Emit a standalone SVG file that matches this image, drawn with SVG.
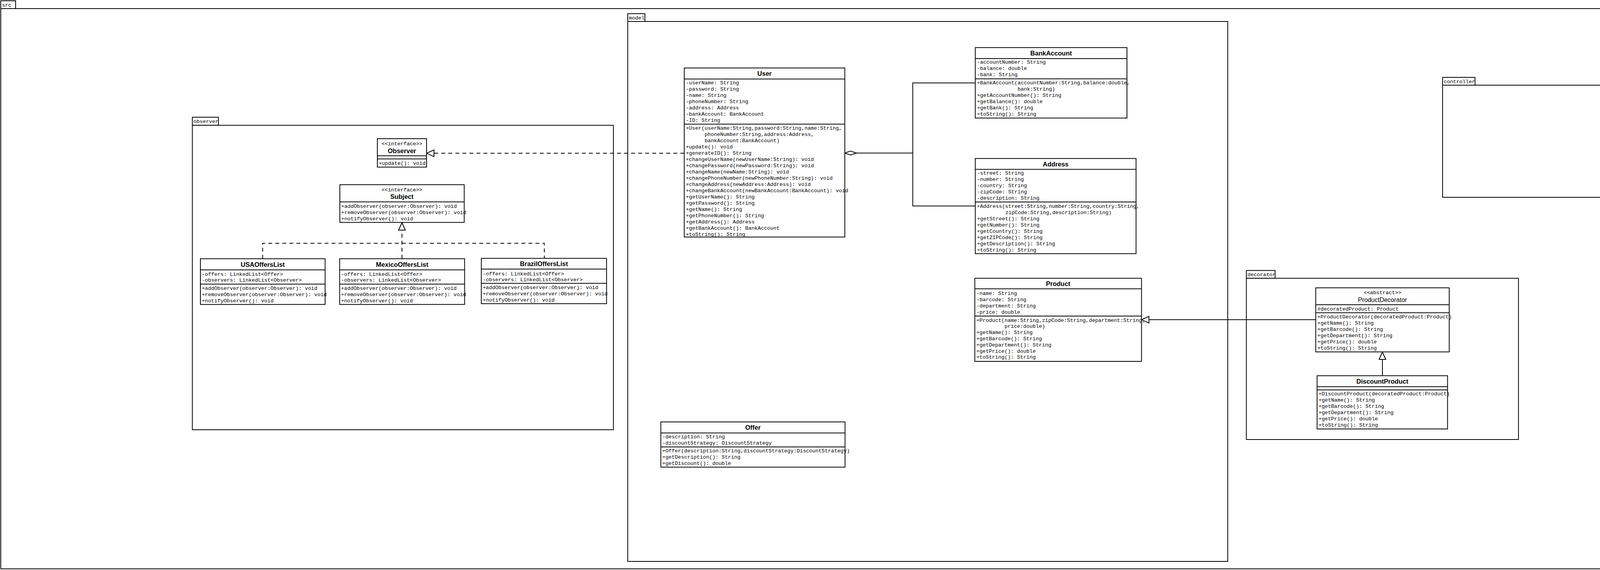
<svg xmlns="http://www.w3.org/2000/svg" width="6452" height="1459" viewBox="0 0 6452 1459">
<style>
.pk{fill:#fff;stroke:#000;stroke-width:2}
.bx{fill:#fff;stroke:#000;stroke-width:2}
.sp{stroke:#000;stroke-width:2}
.m{font-family:"Liberation Mono","Courier New",monospace;font-size:13.33px;fill:#000}
.b{font-family:"Liberation Sans",Arial,sans-serif;font-weight:bold;font-size:16.5px;text-anchor:middle;fill:#000}
.r{font-family:"Liberation Sans",Arial,sans-serif;font-size:16px;text-anchor:middle;fill:#000}
.c{text-anchor:middle}
.cn{fill:none;stroke:#000;stroke-width:2}
.ds{stroke-dasharray:10 8}
</style>
<defs>
<marker id="tri" markerUnits="userSpaceOnUse" markerWidth="24" markerHeight="22" refX="19" refY="9" orient="auto" overflow="visible"><path d="M0,0.5 L19,9 L0,17.5 Z" fill="#fff" stroke="#000" stroke-width="2" stroke-dasharray="none"/></marker>
<marker id="dia" markerUnits="userSpaceOnUse" markerWidth="32" markerHeight="12" refX="0" refY="5" orient="auto" overflow="visible"><path d="M0,5 L15,0 L30,5 L15,10 Z" fill="#fff" stroke="#000" stroke-width="2"/></marker>
</defs>
<rect width="6452" height="1459" fill="#fff"/>

<g id="pkg-src">
<rect class="pk" x="2" y="2" width="38" height="20"/>
<rect class="pk" x="2" y="22" width="6446" height="1434"/>
<text class="m" x="5" y="16.5">src</text>
</g>
<g id="pkg-observer">
<rect class="pk" x="492.4" y="300" width="66.6" height="20.7"/>
<rect class="pk" x="492.4" y="320.7" width="1078" height="779.3"/>
<text class="m" x="495" y="315">observer</text>
</g>
<g id="pkg-model">
<rect class="pk" x="1607" y="35" width="44" height="20"/>
<rect class="pk" x="1607" y="55" width="1536" height="1382"/>
<text class="m" x="1610" y="49.5">model</text>
</g>
<g id="pkg-decorator">
<rect class="pk" x="3190.7" y="692.3" width="73.6" height="20"/>
<rect class="pk" x="3190.7" y="712.3" width="696.6" height="412.7"/>
<text class="m" x="3193.5" y="706.8">decorator</text>
</g>
<g id="pkg-controller">
<rect class="pk" x="3693" y="198" width="83" height="20"/>
<rect class="pk" x="3693" y="218" width="432" height="287"/>
<text class="m" x="3696" y="212.5">controller</text>
</g>
<g id="pkg-view">
<rect class="pk" x="4437" y="228" width="40" height="20"/>
<rect class="pk" x="4437" y="248" width="418" height="267"/>
<text class="m" x="4440" y="242.5">view</text>
</g>
<g id="pkg-strategy">
<rect class="pk" x="4279.3" y="736" width="66.4" height="20"/>
<rect class="pk" x="4279.3" y="756" width="1404" height="648"/>
<text class="m" x="4282" y="750.5">strategy</text>
</g>

<g id="connectors">
<path class="cn ds" d="M1751.7,392.3 H1092" marker-end="url(#tri)"/>
<path class="cn ds" d="M672.4,662.3 V622.7 H1393.5 V661.3"/>
<path class="cn ds" d="M1029,662.3 V570" marker-end="url(#tri)"/>
<path class="cn" d="M2162.3,391.7 H2336.7" marker-start="url(#dia)"/>
<path class="cn" d="M2496.7,212.3 H2336.7 V527.3 H2496.7"/>
<path class="cn" d="M3368.3,818.3 H2922.3" marker-end="url(#tri)"/>
<path class="cn" d="M3539,961.7 V901" marker-end="url(#tri)"/>
</g>

<g id="Observer">
<rect class="bx" x="966" y="355" width="126" height="72.7"/>
<line class="sp" x1="966" y1="398.7" x2="1092" y2="398.7"/>
<line class="sp" x1="966" y1="406.7" x2="1092" y2="406.7"/>
<text class="m c" x="1029" y="371.8">&lt;&lt;interface&gt;&gt;</text>
<text class="b" x="1029" y="391.7">Observer</text>
<text class="m" x="969.5" y="421.5">+update(): void</text>
</g>
<g id="Subject">
<rect class="bx" x="870" y="472.7" width="318.4" height="96.6"/>
<line class="sp" x1="870" y1="516.7" x2="1188.4" y2="516.7"/>
<text class="m c" x="1029" y="489.5">&lt;&lt;interface&gt;&gt;</text>
<text class="b" x="1029" y="509.3">Subject</text>
<text class="m" x="873.5" y="531.8">+addObserver(observer:Observer): void</text>
<text class="m" x="873.5" y="547.8">+removeObserver(observer:Observer): void</text>
<text class="m" x="873.5" y="563.8">+notifyObserver(): void</text>
</g>
<g id="USAOffersList">
<rect class="bx" x="513" y="662.3" width="319.3" height="117"/>
<line class="sp" x1="513" y1="690.7" x2="832.3" y2="690.7"/>
<line class="sp" x1="513" y1="727.3" x2="832.3" y2="727.3"/>
<text class="b" x="672.7" y="682.5">USAOffersList</text>
<text class="m" x="516.5" y="705.5">-offers: LinkedList&lt;Offer&gt;</text>
<text class="m" x="516.5" y="721.2">-observers: LinkedList&lt;Observer&gt;</text>
<text class="m" x="516.5" y="741.8">+addObserver(observer:Observer): void</text>
<text class="m" x="516.5" y="757.8">+removeObserver(observer:Observer): void</text>
<text class="m" x="516.5" y="773.8">+notifyObserver(): void</text>
</g>
<g id="MexicoOffersList">
<rect class="bx" x="869.5" y="662.3" width="319.9" height="117"/>
<line class="sp" x1="869.5" y1="690.7" x2="1189.4" y2="690.7"/>
<line class="sp" x1="869.5" y1="727.3" x2="1189.4" y2="727.3"/>
<text class="b" x="1029.5" y="682.5">MexicoOffersList</text>
<text class="m" x="873" y="705.5">-offers: LinkedList&lt;Offer&gt;</text>
<text class="m" x="873" y="721.2">-observers: LinkedList&lt;Observer&gt;</text>
<text class="m" x="873" y="741.8">+addObserver(observer:Observer): void</text>
<text class="m" x="873" y="757.8">+removeObserver(observer:Observer): void</text>
<text class="m" x="873" y="773.8">+notifyObserver(): void</text>
</g>
<g id="BrazilOffersList">
<rect class="bx" x="1232.2" y="661.3" width="320.6" height="116"/>
<line class="sp" x1="1232.2" y1="688.7" x2="1552.8" y2="688.7"/>
<line class="sp" x1="1232.2" y1="725.3" x2="1552.8" y2="725.3"/>
<text class="b" x="1392.5" y="681">BrazilOffersList</text>
<text class="m" x="1235.7" y="704.5">-offers: LinkedList&lt;Offer&gt;</text>
<text class="m" x="1235.7" y="720.2">-observers: LinkedList&lt;Observer&gt;</text>
<text class="m" x="1235.7" y="740.2">+addObserver(observer:Observer): void</text>
<text class="m" x="1235.7" y="756.2">+removeObserver(observer:Observer): void</text>
<text class="m" x="1235.7" y="772.2">+notifyObserver(): void</text>
</g>

<g id="User">
<rect class="bx" x="1751.7" y="174" width="411" height="432.7"/>
<line class="sp" x1="1751.7" y1="202.3" x2="2162.7" y2="202.3"/>
<line class="sp" x1="1751.7" y1="317.7" x2="2162.7" y2="317.7"/>
<text class="b" x="1957.2" y="194">User</text>
<text class="m" x="1755.7" y="215.5">-userName: String</text>
<text class="m" x="1755.7" y="231.5">-password: String</text>
<text class="m" x="1755.7" y="247.5">-name: String</text>
<text class="m" x="1755.7" y="263.5">-phoneNumber: String</text>
<text class="m" x="1755.7" y="279.5">-address: Address</text>
<text class="m" x="1755.7" y="295.5">-bankAccount: BankAccount</text>
<text class="m" x="1755.7" y="311.5">-ID: String</text>
<text class="m" x="1755.7" y="331.5">+User(userName:String,password:String,name:String,</text>
<text class="m" x="1803.7" y="347.5">phoneNumber:String,address:Address,</text>
<text class="m" x="1803.7" y="363.5">bankAccount:BankAccount)</text>
<text class="m" x="1755.7" y="379.5">+update(): void</text>
<text class="m" x="1755.7" y="395.5">+generateID(): String</text>
<text class="m" x="1755.7" y="411.5">+changeUserName(newUserName:String): void</text>
<text class="m" x="1755.7" y="427.5">+changePassword(newPassword:String): void</text>
<text class="m" x="1755.7" y="443.5">+changeName(newName:String): void</text>
<text class="m" x="1755.7" y="459.5">+changePhoneNumber(newPhoneNumber:String): void</text>
<text class="m" x="1755.7" y="475.5">+changeAddress(newAddress:Address): void</text>
<text class="m" x="1755.7" y="491.5">+changeBankAccount(newBankAccount:BankAccount): void</text>
<text class="m" x="1755.7" y="507.5">+getUserName(): String</text>
<text class="m" x="1755.7" y="523.5">+getPassword(): String</text>
<text class="m" x="1755.7" y="539.5">+getName(): String</text>
<text class="m" x="1755.7" y="555.5">+getPhoneNumber(): String</text>
<text class="m" x="1755.7" y="571.5">+getAddress(): Address</text>
<text class="m" x="1755.7" y="587.5">+getBankAccount(): BankAccount</text>
<text class="m" x="1755.7" y="603.5">+toString(): String</text>
</g>
<g id="BankAccount">
<rect class="bx" x="2496.7" y="121.8" width="388.3" height="180.4"/>
<line class="sp" x1="2496.7" y1="150" x2="2885" y2="150"/>
<line class="sp" x1="2496.7" y1="201.8" x2="2885" y2="201.8"/>
<text class="b" x="2690.8" y="141.7">BankAccount</text>
<text class="m" x="2501" y="163.4">-accountNumber: String</text>
<text class="m" x="2501" y="179.4">-balance: double</text>
<text class="m" x="2501" y="195.4">-bank: String</text>
<text class="m" x="2501" y="215.9">+BankAccount(accountNumber:String,balance:double,</text>
<text class="m" x="2605" y="231.9">bank:String)</text>
<text class="m" x="2501" y="247.9">+getAccountNumber(): String</text>
<text class="m" x="2501" y="263.9">+getBalance(): double</text>
<text class="m" x="2501" y="279.9">+getBank(): String</text>
<text class="m" x="2501" y="295.9">+toString(): String</text>
</g>
<g id="Address">
<rect class="bx" x="2496.7" y="405.7" width="411.6" height="243.6"/>
<line class="sp" x1="2496.7" y1="433.6" x2="2908.3" y2="433.6"/>
<line class="sp" x1="2496.7" y1="517.1" x2="2908.3" y2="517.1"/>
<text class="b" x="2702.5" y="425.7">Address</text>
<text class="m" x="2501" y="447.4">-street: String</text>
<text class="m" x="2501" y="463.4">-number: String</text>
<text class="m" x="2501" y="479.4">-country: String</text>
<text class="m" x="2501" y="495.4">-zipCode: String</text>
<text class="m" x="2501" y="511.4">-description: String</text>
<text class="m" x="2501" y="531.6">+Address(street:String,number:String,country:String,</text>
<text class="m" x="2573.7" y="547.6">zipCode:String,description:String)</text>
<text class="m" x="2501" y="563.6">+getStreet(): String</text>
<text class="m" x="2501" y="579.6">+getNumber(): String</text>
<text class="m" x="2501" y="595.6">+getCountry(): String</text>
<text class="m" x="2501" y="611.6">+getZIPCode(): String</text>
<text class="m" x="2501" y="627.6">+getDescription(): String</text>
<text class="m" x="2501" y="643.6">+toString(): String</text>
</g>
<g id="Product">
<rect class="bx" x="2495.5" y="712.3" width="426.8" height="212.7"/>
<line class="sp" x1="2495.5" y1="739.3" x2="2922.3" y2="739.3"/>
<line class="sp" x1="2495.5" y1="809" x2="2922.3" y2="809"/>
<text class="b" x="2708.9" y="732">Product</text>
<text class="m" x="2499.5" y="755.2">-name: String</text>
<text class="m" x="2499.5" y="771.2">-barcode: String</text>
<text class="m" x="2499.5" y="787.2">-department: String</text>
<text class="m" x="2499.5" y="803.2">-price: double</text>
<text class="m" x="2499.5" y="823.5">+Product(name:String,zipCode:String,department:String,</text>
<text class="m" x="2571.5" y="839.3">price:double)</text>
<text class="m" x="2499.5" y="855.1">+getName(): String</text>
<text class="m" x="2499.5" y="870.9">+getBarcode(): String</text>
<text class="m" x="2499.5" y="886.7">+getDepartment(): String</text>
<text class="m" x="2499.5" y="902.5">+getPrice(): double</text>
<text class="m" x="2499.5" y="918.3">+toString(): String</text>
</g>
<g id="Offer">
<rect class="bx" x="1691.7" y="1080" width="471.6" height="115.7"/>
<line class="sp" x1="1691.7" y1="1108.3" x2="2163.3" y2="1108.3"/>
<line class="sp" x1="1691.7" y1="1144" x2="2163.3" y2="1144"/>
<text class="b" x="1927.5" y="1100">Offer</text>
<text class="m" x="1695.5" y="1122.2">-description: String</text>
<text class="m" x="1695.5" y="1137.8">-discountStrategy: DiscountStrategy</text>
<text class="m" x="1695.5" y="1157.8">+Offer(description:String,discountStrategy:DiscountStrategy)</text>
<text class="m" x="1695.5" y="1173.8">+getDescription(): String</text>
<text class="m" x="1695.5" y="1189.8">+getDiscount(): double</text>
</g>

<g id="ProductDecorator">
<rect class="bx" x="3368.3" y="736.7" width="341.7" height="164"/>
<line class="sp" x1="3368.3" y1="780" x2="3710" y2="780"/>
<line class="sp" x1="3368.3" y1="800.5" x2="3710" y2="800.5"/>
<text class="m c" x="3539.2" y="752.8">&lt;&lt;abstract&gt;&gt;</text>
<text class="r" x="3539.2" y="773">ProductDecorator</text>
<text class="m" x="3372.5" y="794.5">#decoratedProduct: Product</text>
<text class="m" x="3372.5" y="814.5">+ProductDecorator(decoratedProduct:Product)</text>
<text class="m" x="3372.5" y="830.5">+getName(): String</text>
<text class="m" x="3372.5" y="846.5">+getBarcode(): String</text>
<text class="m" x="3372.5" y="862.5">+getDepartment(): String</text>
<text class="m" x="3372.5" y="878.5">+getPrice(): double</text>
<text class="m" x="3372.5" y="894.5">+toString(): String</text>
</g>
<g id="DiscountProduct">
<rect class="bx" x="3371.7" y="961.7" width="334" height="136.3"/>
<line class="sp" x1="3371.7" y1="989.7" x2="3705.7" y2="989.7"/>
<line class="sp" x1="3371.7" y1="998" x2="3705.7" y2="998"/>
<text class="b" x="3538.7" y="982">DiscountProduct</text>
<text class="m" x="3375.5" y="1011.8">+DiscountProduct(decoratedProduct:Product)</text>
<text class="m" x="3375.5" y="1027.8">+getName(): String</text>
<text class="m" x="3375.5" y="1043.8">+getBarcode(): String</text>
<text class="m" x="3375.5" y="1059.8">+getDepartment(): String</text>
<text class="m" x="3375.5" y="1075.8">+getPrice(): double</text>
<text class="m" x="3375.5" y="1091.8">+toString(): String</text>
</g>

<g id="LanguageStrategy">
<rect class="bx" x="4848.3" y="769.3" width="264.4" height="176.7"/>
<line class="sp" x1="4848.3" y1="813.3" x2="5112.7" y2="813.3"/>
<text class="m c" x="4980.5" y="786.8">&lt;&lt;interface&gt;&gt;</text>
<text class="b" x="4980.5" y="806.7">LanguageStrategy</text>
<text class="m" x="4852" y="827.2">+showHomeScreen(): void</text>
<text class="m" x="4852" y="843.2">+showLoginScreen(): void</text>
<text class="m" x="4852" y="859.2">+showLogScreen(): void</text>
<text class="m" x="4852" y="875.2">+showProductCatalogScreen(): void</text>
<text class="m" x="4852" y="891.2">+showProductScreen(): void</text>
<text class="m" x="4852" y="907.2">+showShoppingCartScreen(): void</text>
<text class="m" x="4852" y="923.2">+showPurchaseScreen(): void</text>
<text class="m" x="4852" y="939.2">+showPurchaseOrderScreen(): void</text>
</g>
<g id="SpanishStrategy">
<rect class="bx" x="4337.3" y="1061" width="142.7" height="44.7"/>
<line class="sp" x1="4337.3" y1="1090" x2="4480" y2="1090"/>
<line class="sp" x1="4337.3" y1="1097.7" x2="4480" y2="1097.7"/>
<text class="b" x="4408.7" y="1082">SpanishStrategy</text>
</g>
</svg>
